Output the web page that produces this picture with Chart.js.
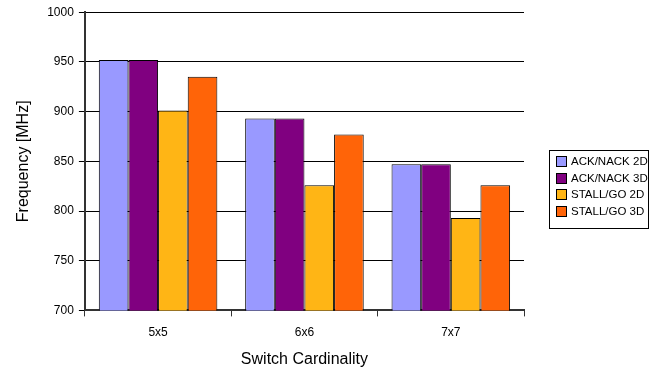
<!DOCTYPE html>
<html>
<head>
<meta charset="utf-8">
<script src="https://cdn.jsdelivr.net/npm/chart.js@4.4.1/dist/chart.umd.min.js"></script>
<style>
    html, body { margin: 0; padding: 0; background: #fff; }
    #wrap { width: 660px; height: 369px; position: relative; }
</style>
</head>
<body>
<div id="wrap"><canvas id="freqChart"></canvas></div>
<script>
// Chart data
const categories = ['5x5', '6x6', '7x7'];
const seriesNames = ['ACK/NACK 2D', 'ACK/NACK 3D', 'STALL/GO 2D', 'STALL/GO 3D'];
const ackNack2D = [952, 893, 847];
const ackNack3D = [952, 893, 847];
const stallGo2D = [901, 826, 793];
const stallGo3D = [935, 877, 826];
const yTicks = [700, 750, 800, 850, 900, 950, 1000];

const colors = ['#9999FF', '#800080', '#FFB515', '#FF6408'];
const FONT = '"Liberation Sans", Arial, Helvetica, sans-serif';

// Boxed legend on the right, drawn by hand
const boxedLegend = {
    id: 'boxedLegend',
    afterDraw(chart) {
        const ctx = chart.ctx;
        const sets = chart.data.datasets;
        const x = 549, y = 150, w = 99, h = 78, rowH = 16.5;
        ctx.save();
        ctx.strokeStyle = '#000';
        ctx.lineWidth = 1;
        ctx.strokeRect(x + 0.5, y + 0.5, w, h);
        ctx.font = '11.5px ' + FONT;
        ctx.textBaseline = 'middle';
        sets.forEach((ds, i) => {
            const cy = Math.round(y + 11 + i * rowH);
            ctx.fillStyle = ds.backgroundColor;
            ctx.fillRect(x + 7, cy - 5, 11, 11);
            ctx.strokeStyle = '#000';
            ctx.strokeRect(x + 7.5, cy - 4.5, 10, 10);
            ctx.fillStyle = '#000';
            ctx.fillText(ds.label, x + 22, cy + 1);
        });
        ctx.restore();
    }
};

const series = [ackNack2D, ackNack3D, stallGo2D, stallGo3D];

new Chart(document.getElementById('freqChart'), {
    type: 'bar',
    data: {
        labels: categories,
        datasets: series.map((values, i) => ({
            label: seriesNames[i],
            data: values,
            backgroundColor: colors[i],
            borderColor: '#000',
            borderWidth: 1,
            borderSkipped: 'bottom',
            categoryPercentage: 0.81,
            barPercentage: 1.0
        }))
    },
    options: {
        responsive: true,
        maintainAspectRatio: false,
        animation: false,
        layout: { padding: { left: 10, right: 136, top: 12, bottom: 0 } },
        plugins: {
            legend: { display: false },
            tooltip: { enabled: false }
        },
        scales: {
            x: {
                grid: {
                    offset: true,
                    drawOnChartArea: false,
                    drawTicks: true,
                    tickLength: 6,
                    color: '#333'
                },
                border: { color: '#333', width: 2 },
                ticks: { color: '#000', font: { family: FONT, size: 12 }, padding: 9 },
                title: {
                    display: true,
                    text: 'Switch Cardinality',
                    color: '#000',
                    font: { family: FONT, size: 16 },
                    padding: { top: 1, bottom: 0 }
                }
            },
            y: {
                min: 700,
                max: 1000,
                afterBuildTicks(axis) {
                    axis.ticks = yTicks.map(v => ({ value: v }));
                },
                grid: {
                    color: '#000',
                    lineWidth: 1,
                    drawTicks: true,
                    tickLength: 6
                },
                border: { color: '#333', width: 2 },
                ticks: {
                    color: '#000',
                    font: { family: FONT, size: 12 },
                    padding: 5,
                    callback: value => String(value)
                },
                title: {
                    display: true,
                    text: 'Frequency [MHz]',
                    color: '#000',
                    font: { family: FONT, size: 16 },
                    padding: { bottom: 9 }
                }
            }
        }
    },
    plugins: [boxedLegend]
});
</script>
</body>
</html>
